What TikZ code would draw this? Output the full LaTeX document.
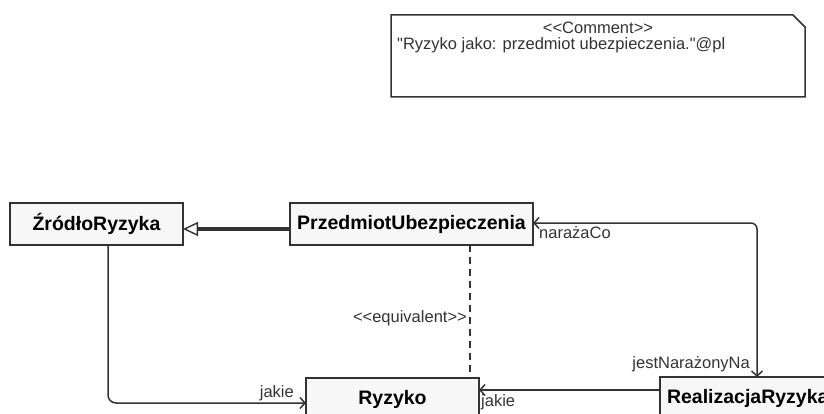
\documentclass[tikz,border=0pt]{standalone}
\usepackage{fontspec}
\setmainfont{Liberation Sans}[Ligatures=TeXOff]
\usepackage{xcolor}
\usepackage{tikz}
\usetikzlibrary{arrows.meta}
\definecolor{ramka}{HTML}{333333}
\definecolor{tlo}{HTML}{F7F7F7}
\newcommand{\fklasa}{\fontsize{19.5}{22}\selectfont\bfseries}
\newcommand{\fetykieta}{\fontsize{16.5}{19}\selectfont}

\begin{document}
\begin{tikzpicture}[x=1pt, y=-1pt,
	klasa/.style={draw=ramka, fill=tlo, line width=1.6pt, inner sep=0pt, outer sep=0pt,
		minimum height=42pt, anchor=north west, font=\fklasa},
	etykieta/.style={inner sep=0pt, text=ramka, font=\fetykieta},
	asocjacja/.style={draw=ramka, line width=1.5pt, arrows={-Straight Barb[length=5pt, width=11pt]}},
	generalizacja/.style={draw=ramka, line width=3.2pt, arrows={-Triangle[open, fill=white, length=15pt, width=14pt, line width=1.4pt]}}]
	\useasboundingbox (0,0) rectangle (824,414);
			%   %   %   %   %   %   %   %   %   %   %
			%   Comment
				\node[inner sep=0pt, outer sep=0pt, minimum width=414pt, minimum height=82pt, anchor=north west] (komentarz) at (391,15) {};
				\draw[ramka, line width=1.5pt, fill=white] (komentarz.south west) -- (komentarz.north west)
					-- ([xshift=-12pt]komentarz.north east) -- ([yshift=-12pt]komentarz.north east)
					-- (komentarz.south east) -- cycle;
				\node[etykieta, anchor=center] (stereotyp) at (598,28) {<<Comment>>};
				\node[etykieta, anchor=west] (tresc) at (397,45) {"Ryzyko jako: przedmiot ubezpieczenia."@pl};
			%   %   %   %   %   %   %   %   %   %   %
			%   Classes
				\node[klasa, minimum width=173pt] (zrodlo) at (10,203) {ŹródłoRyzyka};
				\node[klasa, minimum width=243pt] (przedmiot) at (290,203) {PrzedmiotUbezpieczenia};
				\node[klasa, minimum width=173pt] (ryzyko) at (306,378) {Ryzyko};
				\node[klasa, inner xsep=7pt] (realizacja) at (660,377) {RealizacjaRyzyka};
			%   %   %   %   %   %   %   %   %   %   %
			%   PrzedmiotUbezpieczenia -> ŹródłoRyzyka
				\draw[generalizacja] ([yshift=-5pt]przedmiot.west) -- ([yshift=-5pt]zrodlo.east);
			%   %   %   %   %   %   %   %   %   %   %
			%   PrzedmiotUbezpieczenia <-> RealizacjaRyzyka
				\draw[asocjacja, arrows={Straight Barb[length=5pt, width=11pt]-Straight Barb[length=5pt, width=11pt]}, rounded corners=6pt]
					([yshift=1pt]przedmiot.east) -| ([xshift=97pt]realizacja.north west);
				\node[etykieta, anchor=west] (narazaCo) at (539,233) {narażaCo};
				\node[etykieta, anchor=east] (jestNa) at (750,364) {jestNarażonyNa};
			%   %   %   %   %   %   %   %   %   %   %
			%   RealizacjaRyzyka -> Ryzyko
				\draw[asocjacja] ([yshift=8pt]realizacja.west) -- ([yshift=8pt]realizacja.west -| ryzyko.east);
				\node[etykieta, anchor=west] (jakiePrawe) at (481,402) {jakie};
			%   %   %   %   %   %   %   %   %   %   %
			%   ŹródłoRyzyka -> Ryzyko
				\draw[asocjacja, rounded corners=8pt] ([xshift=11.5pt]zrodlo.south) |- ([yshift=-4pt]ryzyko.west);
				\node[etykieta, anchor=east] (jakieLewe) at (294,393) {jakie};
			%   %   %   %   %   %   %   %   %   %   %
			%   PrzedmiotUbezpieczenia -- Ryzyko
				\draw[ramka, line width=1.5pt, dash pattern=on 7pt off 5pt]
					([xshift=58.5pt]przedmiot.south) -- ([xshift=58.5pt]przedmiot.south |- ryzyko.north);
				\node[etykieta, anchor=east] (ekwiwalent) at (467,318) {<<equivalent>>};
\end{tikzpicture}
\end{document}
